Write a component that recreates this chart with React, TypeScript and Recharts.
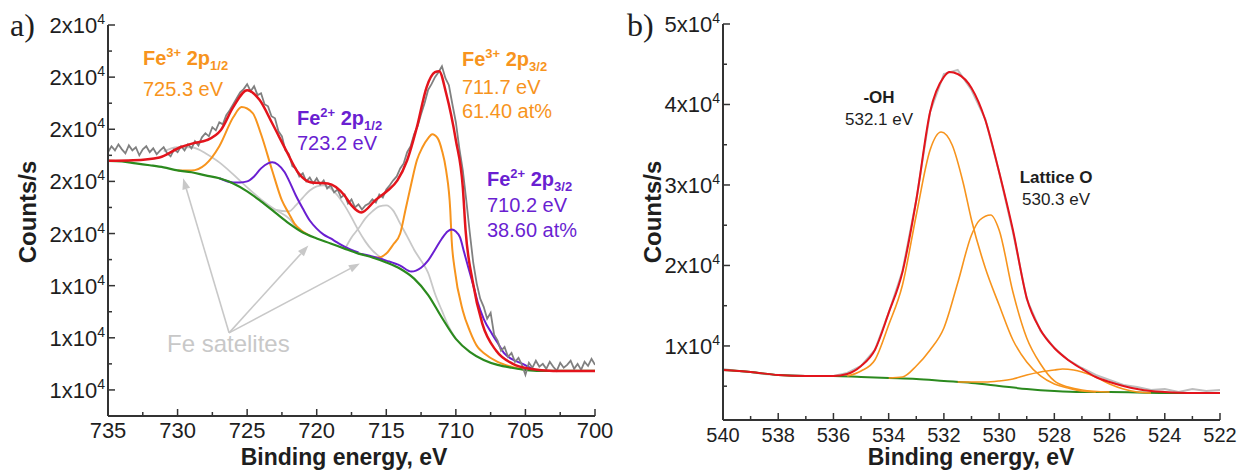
// XPS Fe 2p (a) and O 1s (b) spectra - Recharts
import React from 'react';
import { LineChart, Line, XAxis, YAxis, ReferenceLine } from 'recharts';

const FONT = '"Liberation Sans", Arial, Helvetica, sans-serif';
const INK = '#1e1e1e';
const AXIS = '#333333';
const ORANGE = '#f7941d';
const PURPLE = '#6a1fd1';
const RED = '#e3141c';
const GREEN = '#2b8a1e';
const DATA_GRAY = '#808080';
const SAT_GRAY = '#c8c8c8';

// ---------- panel a: Fe 2p ----------
const feXMajor = [735, 730, 725, 720, 715, 710, 705, 700];
const feXMinor = [732.5, 727.5, 722.5, 717.5, 712.5, 707.5, 702.5];
const feYMajor = [10000, 12000, 14000, 16000, 18000, 20000, 22000, 24000];
const feYMinor = [11000, 13000, 15000, 17000, 19000, 21000, 23000];

const feDataE = [
  735, 734.75, 734.5, 734.25, 734, 733.75, 733.5, 733.25, 733, 732.75,
  732.5, 732.25, 732, 731.75, 731.5, 731.25, 731, 730.75, 730.5, 730.25,
  730, 729.75, 729.5, 729.25, 729, 728.75, 728.5, 728.25, 728, 727.75,
  727.5, 727.25, 727, 726.75, 726.5, 726.25, 726, 725.75, 725.5, 725.25,
  725, 724.75, 724.5, 724.25, 724, 723.75, 723.5, 723.25, 723, 722.75,
  722.5, 722.25, 722, 721.75, 721.5, 721.25, 721, 720.75, 720.5, 720.25,
  720, 719.75, 719.5, 719.25, 719, 718.75, 718.5, 718.25, 718, 717.75,
  717.5, 717.25, 717, 716.75, 716.5, 716.25, 716, 715.75, 715.5, 715.25,
  715, 714.75, 714.5, 714.25, 714, 713.75, 713.5, 713.25, 713, 712.75,
  712.5, 712.25, 712, 711.75, 711.5, 711.25, 711, 710.75, 710.5, 710.25,
  710, 709.75, 709.5, 709.25, 709, 708.75, 708.5, 708.25, 708, 707.75,
  707.5, 707.25, 707, 706.75, 706.5, 706.25, 706, 705.75, 705.5, 705.25,
  705, 704.75, 704.5, 704.25, 704, 703.75, 703.5, 703.25, 703, 702.75,
  702.5, 702.25, 702, 701.75, 701.5, 701.25, 701, 700.75, 700.5, 700.25,
  700,
];
const feData = [
  19120, 19350, 19190, 19420, 19230, 19080, 19380, 19190, 19310, 19000,
  19230, 19350, 19120, 19270, 19040, 19190, 19310, 19080, 18960, 19230,
  19120, 19350, 19190, 19420, 19270, 19540, 19380, 19690, 19850, 19730,
  20080, 19960, 20270, 20190, 20540, 20730, 20960, 21190, 21420, 21540,
  21730, 21460, 21650, 21310, 21380, 20960, 20880, 20500, 20420, 19920,
  19730, 19190, 19040, 18580, 18500, 18190, 18310, 18000, 18150, 17920,
  18120, 17880, 18040, 17730, 17850, 17580, 17690, 17380, 17500, 17150,
  17310, 17000, 17120, 16920, 17080, 17150, 17310, 17190, 17500, 17380,
  17690, 17850, 18040, 18190, 18500, 18690, 19120, 19350, 19810, 20120,
  20580, 21000, 21500, 21730, 22000, 22190, 22420, 21960, 21690, 20960,
  20270, 19270, 18420, 17270, 16040, 14880, 14080, 13500, 13190, 12730,
  12960, 12120, 11890, 11500, 11650, 11270, 11420, 11080, 11230, 10960,
  10580, 11040, 10850, 11120, 10890, 11000, 10810, 11080, 10890, 10730,
  11040, 10850, 10960, 11120, 10810, 11000, 10770, 11080, 10920, 11190,
  10960,
];

const feEnvE = [735, 733.2, 731.3, 729.8, 728.9, 727.9, 726.9, 726, 725, 724.1, 723.2, 722.2, 721.3, 720.4, 719.2, 718, 717.5, 716.8, 715.8, 714.9, 714.2, 713.5, 712.8, 712.1, 711.5, 711.2, 710.7, 710, 709.5, 709.3, 708.8, 708.1, 707.1, 705.9, 704.7, 703, 700];
const feEnv = [18790, 18810, 18920, 19310, 19460, 19580, 19960, 20850, 21500, 21120, 20230, 19190, 18310, 17960, 17920, 17460, 17080, 16810, 17270, 17650, 18040, 18810, 20080, 21620, 22190, 22230, 21380, 19580, 17770, 16120, 14190, 12540, 11500, 11000, 10810, 10730, 10730];

const feBgE = [735, 734, 733, 732, 731, 730, 729, 728, 727, 726, 725, 724, 723, 722, 721, 720, 719, 718, 717, 716, 715, 714, 713, 712, 711, 710, 709, 708, 707, 706, 705, 704, 700];
const feBg = [18790, 18770, 18690, 18620, 18540, 18420, 18350, 18230, 18120, 17920, 17620, 17230, 16810, 16390, 16040, 15810, 15620, 15420, 15230, 15080, 14890, 14650, 14270, 13650, 12770, 11960, 11460, 11150, 10960, 10850, 10770, 10730, 10730];

const fe3p12E = [730, 729, 728, 727, 726, 725.4, 724.6, 724, 723.2, 722.5, 722, 721.6, 721, 720.5];
const fe3p12 = [18420, 18420, 18650, 19350, 20460, 20850, 20620, 19810, 18420, 17270, 16770, 16380, 16080, 15920];

const fe3p32E = [716, 715.6, 715, 714.5, 714, 713.6, 713.2, 712.8, 712.4, 712, 711.7, 711.3, 711, 710.7, 710.4, 710.3, 710.1, 709.5, 709, 708.4, 708, 707, 706, 705];
const fe3p32 = [15080, 15080, 15230, 15580, 16000, 16960, 17920, 18810, 19310, 19650, 19810, 19650, 19190, 18420, 16880, 15730, 14690, 13040, 12270, 11620, 11420, 11080, 10890, 10770];

const fe2p12E = [727, 726, 725.5, 725, 724.5, 724, 723.5, 723.2, 722.8, 722.3, 722, 721.5, 721, 720.5, 720, 719.5, 719, 718.5, 718, 717];
const fe2p12 = [18120, 17960, 17960, 18000, 18190, 18500, 18690, 18730, 18650, 18350, 18040, 17460, 16960, 16500, 16190, 15960, 15810, 15650, 15500, 15270];

const fe2p32E = [717, 716, 715, 714, 713.2, 712.5, 712, 711.5, 711, 710.6, 710.3, 710, 709.7, 709.4, 709.1, 708.7, 708.4, 708, 707.4, 707, 706.5, 706, 705.2, 704.5, 704];
const fe2p32 = [15230, 15120, 14960, 14770, 14540, 14690, 14960, 15380, 15810, 16080, 16150, 16080, 15850, 15270, 14690, 13920, 13310, 12730, 12150, 11810, 11390, 11190, 11000, 10810, 10730];

const sat1E = [731, 730, 729, 728.5, 728, 727, 726, 725, 724, 723, 722, 721.5];
const sat1 = [19150, 19310, 19310, 19230, 19080, 18730, 18270, 17770, 17310, 16920, 16580, 16270];
const sat2E = [724, 723, 722, 721.5, 721, 720.5, 720, 719.5, 719, 718.5, 718, 717.5, 717, 716.5, 716, 715.5, 715];
const sat2 = [17230, 16920, 16850, 17080, 17380, 17650, 17810, 17850, 17730, 17460, 17080, 16620, 16120, 15690, 15350, 15120, 14890];
const sat3E = [718, 717.5, 717, 716.5, 716, 715.5, 715, 714.5, 714, 713.5, 713, 712.5, 712, 711.5, 711, 710.5, 710];
const sat3 = [15380, 15850, 16190, 16580, 16850, 17040, 17080, 16880, 16380, 15890, 15380, 14960, 14500, 13690, 13040, 12420, 11960];

// arrows from the "Fe satelites" note (energy, counts)
const satArrowFrom = { x: 726.3, y: 12190 };
const satArrowTo = [
  { x: 729.6, y: 18120 },
  { x: 720.6, y: 15540 },
  { x: 716.9, y: 14850 },
];

// ---------- panel b: O 1s ----------
const oXMajor = [540, 538, 536, 534, 532, 530, 528, 526, 524, 522];
const oXMinor = [539, 537, 535, 533, 531, 529, 527, 525, 523];
const oYMajor = [10000, 20000, 30000, 40000, 50000];
const oYMinor = [5000, 15000, 25000, 35000, 45000];

const oDataE = [540, 539.5, 539, 538.5, 538, 537.5, 537, 536.5, 536, 535.5, 535, 534.5, 534, 533.5, 533, 532.5, 532, 531.5, 531, 530.5, 530, 529.5, 529, 528.5, 528, 527.5, 527, 526.5, 526, 525.5, 525, 524.5, 524, 523.5, 523, 522.5, 522];
const oData = [7140, 6890, 6760, 6520, 6390, 6390, 6270, 6270, 6270, 6640, 7510, 9500, 14100, 19310, 28130, 39070, 43790, 44290, 41800, 38200, 31610, 24160, 15830, 11860, 9750, 8260, 7260, 6390, 5770, 5150, 4900, 4530, 4650, 4280, 4650, 4400, 4530];

const oEnvE = [540, 539, 538, 537, 536, 535.5, 535, 534.5, 534, 533.5, 533, 532.5, 532, 531.8, 531.5, 531, 530.5, 530, 529.5, 529, 528.5, 528, 527.5, 527, 526.5, 526, 525.5, 525, 524.5, 524, 523, 522];
const oEnv = [7010, 6760, 6390, 6270, 6270, 6520, 7510, 9500, 14100, 19190, 28130, 39070, 43420, 44040, 43790, 42050, 38070, 31610, 24410, 15960, 11980, 9750, 8260, 7140, 6140, 5520, 5030, 4650, 4400, 4280, 4160, 4160];

const oBgE = [540, 539, 538, 537, 536, 535, 534, 533, 532, 531, 530, 529, 528, 527, 526, 524, 522];
const oBg = [7010, 6760, 6390, 6270, 6270, 6140, 6020, 5900, 5650, 5400, 5030, 4650, 4400, 4280, 4280, 4160, 4160];

const ohE = [535.5, 535, 534.5, 534, 533.5, 533, 532.5, 532.1, 531.7, 531.3, 531, 530.5, 530, 529.5, 529, 528.5, 528, 527.5, 527, 526.5];
const oh = [6270, 6890, 8260, 12600, 17570, 26270, 34350, 36580, 34970, 30250, 25650, 19690, 15090, 10740, 8010, 6270, 5270, 4780, 4400, 4280];

const latticeE = [534, 533.5, 533, 532.5, 532, 531.5, 531, 530.7, 530.3, 530, 529.5, 529, 528.5, 528, 527.5, 527, 526];
const lattice = [6020, 6140, 7510, 9500, 12230, 17820, 23790, 25650, 26270, 24410, 16700, 10990, 7760, 5650, 4900, 4530, 4280];

const thirdE = [531.5, 531, 530.5, 530, 529.5, 529, 528.5, 528, 527.7, 527.3, 527, 526.5, 526, 525.5, 525, 524.5];
const third = [5520, 5520, 5520, 5650, 5900, 6390, 6760, 7010, 7140, 7010, 6760, 6140, 5270, 4650, 4280, 4160];

const pts = (e: number[], v: number[]) => e.map((x, i) => ({ e: x, v: v[i] }));

// ticks drawn inward, labels outside (Origin style)
function xTick(majors: number[], side: 'bottom' | 'top', fontSize = 22) {
  return (props: any) => {
    const { x, y, payload } = props;
    const major = majors.includes(payload.value);
    const len = major ? 7 : 4;
    const dir = side === 'bottom' ? -1 : 1;
    return (
      <g>
        <line x1={x} x2={x} y1={y} y2={y + dir * len} stroke={AXIS} strokeWidth={1.5} />
        {side === 'bottom' && major && (
          <text x={x} y={y + 22} textAnchor="middle" fontSize={fontSize} fill={INK} fontFamily={FONT}>
            {payload.value}
          </text>
        )}
      </g>
    );
  };
}

function yTick(majors: number[], side: 'left' | 'right') {
  return (props: any) => {
    const { x, y, payload } = props;
    const major = majors.includes(payload.value);
    const len = major ? 7 : 4;
    const dir = side === 'left' ? 1 : -1;
    return (
      <g>
        <line x1={x} x2={x + dir * len} y1={y} y2={y} stroke={AXIS} strokeWidth={1.5} />
        {side === 'left' && major && (
          <text x={x - 3} y={y + 8} textAnchor="end" fontSize={22} fill={INK} fontFamily={FONT}>
            <tspan>{Math.round(payload.value / 10000)}x10</tspan>
            <tspan dy={-9} fontSize={14}>4</tspan>
          </text>
        )}
      </g>
    );
  };
}

const Arrow = (p: any) => {
  const { x1, y1, x2, y2 } = p;
  const a = Math.atan2(y2 - y1, x2 - x1);
  const bx = x2 - 11 * Math.cos(a);
  const by = y2 - 11 * Math.sin(a);
  const nx = -Math.sin(a) * 4;
  const ny = Math.cos(a) * 4;
  return (
    <g>
      <line x1={x1} y1={y1} x2={bx} y2={by} stroke={SAT_GRAY} strokeWidth={1.6} />
      <polygon points={`${x2},${y2} ${bx + nx},${by + ny} ${bx - nx},${by - ny}`} fill={SAT_GRAY} />
    </g>
  );
};

function PeakTitle({ x, y, ion, sub, color }: { x: number; y: number; ion: string; sub: string; color: string }) {
  return (
    <text x={x} y={y} fill={color} fontWeight="bold" fontSize={20} fontFamily={FONT}>
      Fe<tspan dy={-8} fontSize={13}>{ion}</tspan>
      <tspan dy={8} fontSize={20}>{' 2p'}</tspan>
      <tspan dy={5} fontSize={13}>{sub}</tspan>
    </text>
  );
}

function Note({ x, y, color, children, anchor = 'start', bold = false, size = 20 }: any) {
  return (
    <text x={x} y={y} fill={color} fontSize={size} fontFamily={FONT} textAnchor={anchor} fontWeight={bold ? 'bold' : 'normal'}>
      {children}
    </text>
  );
}

const lineProps = { type: 'monotone' as const, dataKey: 'v', dot: false, activeDot: false, isAnimationActive: false };

export default function App() {
  return (
    <div style={{ position: 'absolute', left: 0, top: 0, width: 1246, height: 470, background: '#fff' }}>
      <div style={{ position: 'absolute', left: 0, top: 0 }}>
        <LineChart width={620} height={470} margin={{ top: 25, right: 25, bottom: 24, left: 48 }}>
          <XAxis dataKey="e" type="number" domain={[700, 735]} reversed allowDataOverflow
            ticks={[...feXMajor, ...feXMinor]} interval={0} tickSize={0} tickMargin={0} height={30}
            tick={xTick(feXMajor, 'bottom', 22)} axisLine={{ stroke: AXIS, strokeWidth: 2 }} tickLine={false} />
          <XAxis xAxisId="top" orientation="top" dataKey="e" type="number" domain={[700, 735]} reversed allowDataOverflow
            ticks={[...feXMajor, ...feXMinor]} interval={0} tickSize={0} tickMargin={0} height={0}
            tick={xTick(feXMajor, 'top')} axisLine={{ stroke: AXIS, strokeWidth: 2 }} tickLine={false} />
          <YAxis type="number" domain={[9000, 24000]} allowDataOverflow width={60}
            ticks={[...feYMajor, ...feYMinor]} interval={0} tickSize={0} tickMargin={0}
            tick={yTick(feYMajor, 'left')} axisLine={{ stroke: AXIS, strokeWidth: 2 }} tickLine={false} />
          <YAxis yAxisId="right" orientation="right" type="number" domain={[9000, 24000]} allowDataOverflow width={0}
            ticks={[...feYMajor, ...feYMinor]} interval={0} tickSize={0} tickMargin={0}
            tick={yTick(feYMajor, 'right')} axisLine={{ stroke: AXIS, strokeWidth: 2 }} tickLine={false} />

          <Line {...lineProps} data={pts(sat1E, sat1)} stroke={SAT_GRAY} strokeWidth={1.8} />
          <Line {...lineProps} data={pts(sat2E, sat2)} stroke={SAT_GRAY} strokeWidth={1.8} />
          <Line {...lineProps} data={pts(sat3E, sat3)} stroke={SAT_GRAY} strokeWidth={1.8} />
          <Line {...lineProps} data={pts(fe3p12E, fe3p12)} stroke={ORANGE} strokeWidth={2} />
          <Line {...lineProps} data={pts(fe3p32E, fe3p32)} stroke={ORANGE} strokeWidth={2} />
          <Line {...lineProps} data={pts(fe2p12E, fe2p12)} stroke={PURPLE} strokeWidth={2} />
          <Line {...lineProps} data={pts(fe2p32E, fe2p32)} stroke={PURPLE} strokeWidth={2} />
          <Line {...lineProps} data={pts(feBgE, feBg)} stroke={GREEN} strokeWidth={2.2} />
          <Line {...lineProps} type="linear" data={pts(feDataE, feData)} stroke={DATA_GRAY} strokeWidth={1.8} />
          <Line {...lineProps} data={pts(feEnvE, feEnv)} stroke={RED} strokeWidth={2.5} />

          {satArrowTo.map((t, i) => (
            <ReferenceLine key={i} segment={[satArrowFrom, t]} shape={Arrow} />
          ))}
        </LineChart>
      </div>

      <div style={{ position: 'absolute', left: 620, top: 0 }}>
        <LineChart width={626} height={470} margin={{ top: 24, right: 26, bottom: 20, left: 43 }}>
          <XAxis dataKey="e" type="number" domain={[522, 540]} reversed allowDataOverflow
            ticks={[...oXMajor, ...oXMinor]} interval={0} tickSize={0} tickMargin={0} height={30}
            tick={xTick(oXMajor, 'bottom', 20)} axisLine={{ stroke: AXIS, strokeWidth: 2 }} tickLine={false} />
          <XAxis xAxisId="top" orientation="top" dataKey="e" type="number" domain={[522, 540]} reversed allowDataOverflow
            ticks={[...oXMajor, ...oXMinor]} interval={0} tickSize={0} tickMargin={0} height={0}
            tick={xTick(oXMajor, 'top')} axisLine={{ stroke: AXIS, strokeWidth: 2 }} tickLine={false} />
          <YAxis type="number" domain={[800, 50000]} allowDataOverflow width={60}
            ticks={[...oYMajor, ...oYMinor]} interval={0} tickSize={0} tickMargin={0}
            tick={yTick(oYMajor, 'left')} axisLine={{ stroke: AXIS, strokeWidth: 2 }} tickLine={false} />
          <YAxis yAxisId="right" orientation="right" type="number" domain={[800, 50000]} allowDataOverflow width={0}
            ticks={[...oYMajor, ...oYMinor]} interval={0} tickSize={0} tickMargin={0}
            tick={yTick(oYMajor, 'right')} axisLine={{ stroke: AXIS, strokeWidth: 2 }} tickLine={false} />

          <Line {...lineProps} type="linear" data={pts(oDataE, oData)} stroke="#bdbdbd" strokeWidth={2} />
          <Line {...lineProps} data={pts(oBgE, oBg)} stroke={GREEN} strokeWidth={2} />
          <Line {...lineProps} data={pts(thirdE, third)} stroke={ORANGE} strokeWidth={1.6} />
          <Line {...lineProps} data={pts(latticeE, lattice)} stroke={ORANGE} strokeWidth={1.6} />
          <Line {...lineProps} data={pts(ohE, oh)} stroke={ORANGE} strokeWidth={1.6} />
          <Line {...lineProps} data={pts(oEnvE, oEnv)} stroke={RED} strokeWidth={2} />
        </LineChart>
      </div>

      <svg width={1246} height={470} style={{ position: 'absolute', left: 0, top: 0, pointerEvents: 'none' }}>
        <text x={10} y={36} fontSize={32} fontFamily='"Liberation Serif", "Times New Roman", serif' fill={INK}>a)</text>
        <text x={627} y={36} fontSize={32} fontFamily='"Liberation Serif", "Times New Roman", serif' fill={INK}>b)</text>

        <text x={344} y={465} textAnchor="middle" fontSize={23} fontWeight="bold" fontFamily={FONT} fill={INK}>Binding energy, eV</text>
        <text x={971} y={465} textAnchor="middle" fontSize={23} fontWeight="bold" fontFamily={FONT} fill={INK}>Binding energy, eV</text>
        <text x={36} y={212} transform="rotate(-90 36 212)" textAnchor="middle" fontSize={24} fontWeight="bold" fontFamily={FONT} fill={INK}>Counts/s</text>
        <text x={661} y={212} transform="rotate(-90 661 212)" textAnchor="middle" fontSize={24} fontWeight="bold" fontFamily={FONT} fill={INK}>Counts/s</text>

        <PeakTitle x={143} y={65} ion="3+" sub="1/2" color={ORANGE} />
        <Note x={143} y={96} color={ORANGE}>725.3 eV</Note>
        <PeakTitle x={297} y={125} ion="2+" sub="1/2" color={PURPLE} />
        <Note x={297} y={150} color={PURPLE}>723.2 eV</Note>
        <PeakTitle x={462} y={66} ion="3+" sub="3/2" color={ORANGE} />
        <Note x={462} y={94} color={ORANGE}>711.7 eV</Note>
        <Note x={462} y={118} color={ORANGE}>61.40 at%</Note>
        <PeakTitle x={487} y={186} ion="2+" sub="3/2" color={PURPLE} />
        <Note x={487} y={212} color={PURPLE}>710.2 eV</Note>
        <Note x={487} y={237} color={PURPLE}>38.60 at%</Note>
        <Note x={167} y={352} color={SAT_GRAY} size={24}>Fe satelites</Note>

        <Note x={879} y={103} color={INK} anchor="middle" bold size={17}>-OH</Note>
        <Note x={879} y={125} color={INK} anchor="middle" size={17}>532.1 eV</Note>
        <Note x={1056} y={183} color={INK} anchor="middle" bold size={17}>Lattice O</Note>
        <Note x={1056} y={205} color={INK} anchor="middle" size={17}>530.3 eV</Note>
      </svg>
    </div>
  );
}
